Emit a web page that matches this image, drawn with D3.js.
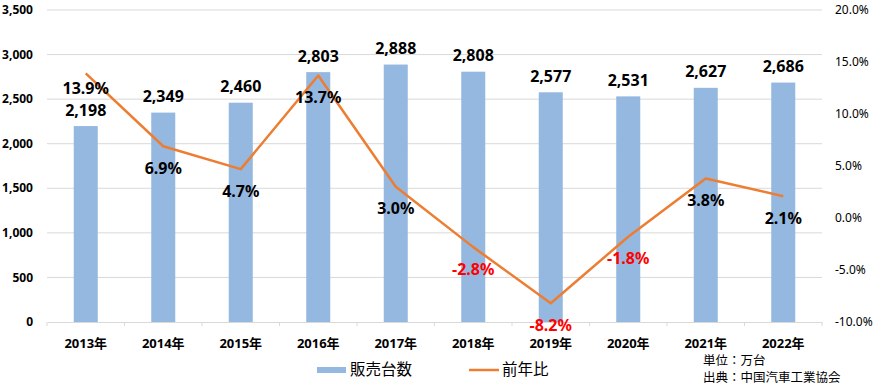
<!DOCTYPE html>
<html>
<head>
<meta charset="utf-8">
<script src="https://cdn.jsdelivr.net/npm/d3@7"></script>
<style>
  body { margin: 0; background: #fff; }
  svg text { font-family: "Noto Sans", "Noto Sans CJK JP", sans-serif; }
</style>
</head>
<body>
<svg id="chart" width="875" height="386"></svg>
<script>
"use strict";

var years = ["2013年", "2014年", "2015年", "2016年", "2017年", "2018年", "2019年", "2020年", "2021年", "2022年"];
var sales = [2198, 2349, 2460, 2803, 2888, 2808, 2577, 2531, 2627, 2686];
var growth = [13.9, 6.9, 4.7, 13.7, 3.0, -2.8, -8.2, -1.8, 3.8, 2.1];
var leftTicks = [0, 500, 1000, 1500, 2000, 2500, 3000, 3500];
var rightTicks = [-10, -5, 0, 5, 10, 15, 20];
var notes = ["単位：万台", "出典：中国汽車工業協会"];

var svg = d3.select("#chart"),
    margin = {top: 10, right: 53, bottom: 64, left: 47},
    width = +svg.attr("width") - margin.left - margin.right,
    height = +svg.attr("height") - margin.top - margin.bottom,
    g = svg.append("g").attr("transform", "translate(" + margin.left + "," + margin.top + ")");

var x = d3.scaleBand().domain(years).range([0, width]).paddingInner(0.69).paddingOuter(0.345);
var xb = d3.scaleBand().domain(years).range([0, width]);
var y = d3.scaleLinear().domain([0, 3500]).range([height, 0]);
var y2 = d3.scaleLinear().domain([-10, 20]).range([height, 0]);

// grid lines
g.selectAll(".grid")
    .data(leftTicks.slice(1))
  .enter().append("line")
    .attr("x1", 0).attr("x2", width)
    .attr("y1", function(d) { return y(d); })
    .attr("y2", function(d) { return y(d); })
    .attr("stroke", "#d9d9d9");

// left axis labels
g.selectAll(".ly")
    .data(leftTicks)
  .enter().append("text")
    .attr("x", -14)
    .attr("y", function(d) { return y(d); })
    .attr("dy", "0.35em")
    .attr("text-anchor", "end")
    .attr("font-size", 12)
    .attr("font-weight", "bold")
    .text(function(d) { return d3.format(",")(d); });

// right axis labels
g.selectAll(".ry")
    .data(rightTicks)
  .enter().append("text")
    .attr("x", width + 13)
    .attr("y", function(d) { return y2(d); })
    .attr("dy", "0.35em")
    .attr("font-size", 12)
    .text(function(d) { return d.toFixed(1) + "%"; });

// bars
g.selectAll(".bar")
    .data(sales)
  .enter().append("rect")
    .attr("x", function(d, i) { return x(years[i]); })
    .attr("width", x.bandwidth())
    .attr("y", function(d) { return y(d); })
    .attr("height", function(d) { return height - y(d); })
    .attr("fill", "#95b8e0");

// x axis
var xAxis = g.append("g")
    .attr("transform", "translate(0," + height + ")")
    .call(d3.axisBottom(xb).tickSize(0).tickPadding(17));
xAxis.select(".domain").attr("stroke", "#d9d9d9");
xAxis.selectAll("text")
    .attr("font-size", 13)
    .attr("font-weight", "bold")
    .attr("fill", "#000")
    .style("font-family", "'Noto Sans', 'Noto Sans CJK JP', sans-serif");
g.selectAll(".xtick")
    .data(d3.range(years.length + 1))
  .enter().append("line")
    .attr("x1", function(i) { return i * xb.step(); })
    .attr("x2", function(i) { return i * xb.step(); })
    .attr("y1", height).attr("y2", height + 4)
    .attr("stroke", "#d9d9d9");

// bar value labels
g.selectAll(".blabel")
    .data(sales)
  .enter().append("text")
    .attr("x", function(d, i) { return xb(years[i]) + xb.bandwidth() / 2; })
    .attr("y", function(d) { return y(d) - 16; })
    .attr("dy", "0.35em")
    .attr("text-anchor", "middle")
    .attr("font-size", 16)
    .attr("font-weight", "bold")
    .text(function(d) { return d3.format(",")(d); });

// growth line
var line = d3.line()
    .x(function(d, i) { return xb(years[i]) + xb.bandwidth() / 2; })
    .y(function(d) { return y2(d); });

g.append("path")
    .datum(growth)
    .attr("fill", "none")
    .attr("stroke", "#ed7d31")
    .attr("stroke-width", 2.5)
    .attr("stroke-linejoin", "round")
    .attr("d", line);

// first label sits higher so it clears the bar label below it
g.selectAll(".glabel")
    .data(growth)
  .enter().append("text")
    .attr("x", function(d, i) { return xb(years[i]) + xb.bandwidth() / 2; })
    .attr("y", function(d, i) { return y2(d) + (i === 0 ? 15 : 22); })
    .attr("dy", "0.35em")
    .attr("text-anchor", "middle")
    .attr("font-size", 16)
    .attr("font-weight", "bold")
    .attr("fill", function(d) { return d < 0 ? "#ff0000" : "#000"; })
    .text(function(d) { return d.toFixed(1) + "%"; });

// legend
var legend = svg.append("g");
legend.append("rect")
    .attr("x", 317).attr("y", 367).attr("width", 29).attr("height", 6)
    .attr("fill", "#95b8e0");
legend.append("text")
    .attr("x", 350).attr("y", 370).attr("dy", "0.35em")
    .attr("font-size", 15.5)
    .text("販売台数");
legend.append("line")
    .attr("x1", 469).attr("x2", 499).attr("y1", 370).attr("y2", 370)
    .attr("stroke", "#ed7d31").attr("stroke-width", 2.5);
legend.append("text")
    .attr("x", 502).attr("y", 370).attr("dy", "0.35em")
    .attr("font-size", 15.5)
    .text("前年比");

// unit and source note
svg.append("text")
    .attr("y", 360.5)
    .attr("font-size", 12.5)
  .selectAll("tspan")
    .data(notes)
  .enter().append("tspan")
    .attr("x", 703)
    .attr("dy", function(d, i) { return i === 0 ? "0.35em" : 17.5; })
    .text(function(d) { return d; });
</script>
</body>
</html>
